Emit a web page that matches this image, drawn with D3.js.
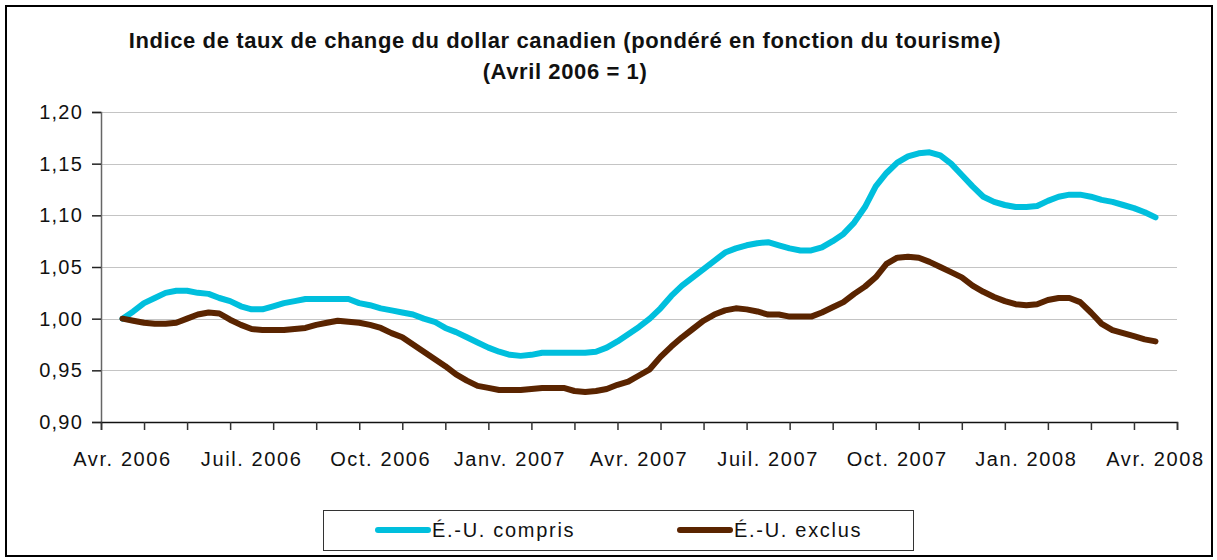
<!DOCTYPE html>
<html>
<head>
<meta charset="utf-8">
<script src="https://cdn.jsdelivr.net/npm/d3@7"></script>
<style>
  body { margin: 0; background: #fff; }
  svg text { font-family: 'Liberation Sans', Arial, sans-serif; fill: #111; }
</style>
</head>
<body>
<div id="chart"></div>
<script>
// monthly categories on the x axis (Avr. 2006 .. Avr. 2008)
const months = ['Avr. 2006', 'Mai 2006', 'Juin 2006', 'Juil. 2006', 'Août 2006', 'Sept. 2006',
  'Oct. 2006', 'Nov. 2006', 'Déc. 2006', 'Janv. 2007', 'Févr. 2007', 'Mars 2007',
  'Avr. 2007', 'Mai 2007', 'Juin 2007', 'Juil. 2007', 'Août 2007', 'Sept. 2007',
  'Oct. 2007', 'Nov. 2007', 'Déc. 2007', 'Jan. 2008', 'Févr. 2008', 'Mars 2008', 'Avr. 2008']
const shownLabels = ['Avr. 2006', 'Juil. 2006', 'Oct. 2006', 'Janv. 2007', 'Avr. 2007',
  'Juil. 2007', 'Oct. 2007', 'Jan. 2008', 'Avr. 2008']
const yTicks = [0.90, 0.95, 1.00, 1.05, 1.10, 1.15, 1.20]

// weekly index values, first week of Avr. 2006 to first week of Avr. 2008
const usIncluded = [
  1.000, 1.007, 1.015, 1.020, 1.025, 1.027, 1.027, 1.025, 1.024, 1.020,
  1.017, 1.012, 1.009, 1.009, 1.012, 1.015, 1.017, 1.019, 1.019, 1.019,
  1.019, 1.019, 1.015, 1.013, 1.010, 1.008, 1.006, 1.004, 1.000, 0.997,
  0.991, 0.987, 0.982, 0.977, 0.972, 0.968, 0.965, 0.964, 0.965, 0.967,
  0.967, 0.967, 0.967, 0.967, 0.968, 0.972, 0.978, 0.985, 0.992, 1.000,
  1.010, 1.022, 1.032, 1.040, 1.048, 1.056, 1.064, 1.068, 1.071, 1.073,
  1.074, 1.071, 1.068, 1.066, 1.066, 1.069, 1.075, 1.082, 1.093, 1.108,
  1.128, 1.141, 1.151, 1.157, 1.160, 1.161, 1.158, 1.150, 1.139, 1.128,
  1.118, 1.113, 1.110, 1.108, 1.108, 1.109, 1.114, 1.118, 1.120, 1.120,
  1.118, 1.115, 1.113, 1.110, 1.107, 1.103, 1.098
]
const usExcluded = [
  1.000, 0.998, 0.996, 0.995, 0.995, 0.996, 1.000, 1.004, 1.006, 1.005,
  0.999, 0.994, 0.990, 0.989, 0.989, 0.989, 0.990, 0.991, 0.994, 0.996,
  0.998, 0.997, 0.996, 0.994, 0.991, 0.986, 0.982, 0.975, 0.968, 0.961,
  0.954, 0.946, 0.940, 0.935, 0.933, 0.931, 0.931, 0.931, 0.932, 0.933,
  0.933, 0.933, 0.930, 0.929, 0.930, 0.932, 0.936, 0.939, 0.945, 0.951,
  0.963, 0.973, 0.982, 0.990, 0.998, 1.004, 1.008, 1.010, 1.009, 1.007,
  1.004, 1.004, 1.002, 1.002, 1.002, 1.006, 1.011, 1.016, 1.024, 1.031,
  1.040, 1.053, 1.059, 1.060, 1.059, 1.055, 1.050, 1.045, 1.040, 1.032,
  1.026, 1.021, 1.017, 1.014, 1.013, 1.014, 1.018, 1.020, 1.020, 1.016,
  1.006, 0.995, 0.989, 0.986, 0.983, 0.980, 0.978
]

const seriesNames = ['É.-U. compris', 'É.-U. exclus']
const segColor = ['#00BFDD', '#5A2400']

const width = 1217
const height = 560
const plotLeft = 101
const plotRight = 1177
const plotTop = 112
const plotBottom = 422

const svg = d3.select('#chart').append('svg')
  .attr('width', width)
  .attr('height', height)

// outer frame
svg.append('rect')
  .attr('x', 6).attr('y', 6)
  .attr('width', 1206).attr('height', 550)
  .attr('fill', '#fff')
  .attr('stroke', '#000')
  .attr('stroke-width', 2)

// titles
svg.append('text')
  .attr('x', 565).attr('y', 48)
  .attr('text-anchor', 'middle')
  .style('font-size', '22px').style('font-weight', 'bold')
  .style('letter-spacing', '0.6px')
  .text('Indice de taux de change du dollar canadien (pondéré en fonction du tourisme)')
svg.append('text')
  .attr('x', 565).attr('y', 79)
  .attr('text-anchor', 'middle')
  .style('font-size', '22px').style('font-weight', 'bold')
  .style('letter-spacing', '0.6px')
  .text('(Avril 2006 = 1)')

const x = d3.scaleBand()
  .domain(months)
  .range([plotLeft, plotRight])
  .padding(0)

const y = d3.scaleLinear()
  .domain([0.90, 1.20])
  .range([plotBottom, plotTop])

// gridlines
svg.append('g')
  .selectAll('line')
  .data(yTicks.slice(1))
  .enter().append('line')
  .attr('x1', plotLeft).attr('x2', plotRight)
  .attr('y1', d => Math.round(y(d)) + 0.5)
  .attr('y2', d => Math.round(y(d)) + 0.5)
  .attr('stroke', '#c4c4c4')
  .attr('stroke-width', 1)

// y axis
const yAxis = d3.axisLeft(y)
  .tickValues(yTicks)
  .tickSize(9)
  .tickPadding(9)
  .tickFormat(d => d3.format('.2f')(d).replace('.', ','))
const gy = svg.append('g')
  .attr('transform', 'translate(' + plotLeft + ',0)')
  .call(yAxis)
gy.select('.domain').attr('stroke', '#666').attr('stroke-width', 1.5)
gy.selectAll('.tick line').attr('stroke', '#222').attr('stroke-width', 1.5)
gy.selectAll('.tick text')
  .style('font-size', '20px')
  .style('letter-spacing', '1.2px')
  .attr('fill', '#111')

// x axis: ticks at month boundaries, labels every third month
const monthEdge = d3.scaleLinear()
  .domain([0, months.length])
  .range([plotLeft, plotRight])
const xAxis = d3.axisBottom(monthEdge)
  .tickValues(d3.range(0, months.length + 1))
  .tickSize(8)
  .tickFormat('')
const gx = svg.append('g')
  .attr('transform', 'translate(0,' + plotBottom + ')')
  .call(xAxis)
gx.select('.domain').attr('stroke', '#111').attr('stroke-width', 1.5)
gx.selectAll('.tick line').attr('stroke', '#333').attr('stroke-width', 1.5)

svg.append('g')
  .selectAll('text')
  .data(shownLabels)
  .enter().append('text')
  .attr('x', d => x(d) + x.bandwidth() / 2)
  .attr('y', 466)
  .attr('text-anchor', 'middle')
  .style('font-size', '20px')
  .style('letter-spacing', '1.6px')
  .text(d => d)

// lines: first week in the centre of Avr. 2006, last in the centre of Avr. 2008
const weekX = d3.scaleLinear()
  .domain([0, usIncluded.length - 1])
  .range([x(months[0]) + x.bandwidth() / 2, x(months[months.length - 1]) + x.bandwidth() / 2])

const line = d3.line()
  .x((d, i) => weekX(i))
  .y(d => y(d))

const series = [usIncluded, usExcluded]
svg.append('g')
  .selectAll('path')
  .data(series)
  .enter().append('path')
  .attr('d', line)
  .attr('fill', 'none')
  .attr('stroke', (d, i) => segColor[i])
  .attr('stroke-width', 6)
  .attr('stroke-linejoin', 'round')
  .attr('stroke-linecap', 'round')

// legend
svg.append('rect')
  .attr('x', 323.5).attr('y', 510.5)
  .attr('width', 590).attr('height', 40)
  .attr('fill', '#fff')
  .attr('stroke', '#333')
  .attr('stroke-width', 1)

const legend = svg.selectAll('.legend')
  .data(seriesNames)
  .enter().append('g')
  .attr('class', 'legend')
  .attr('transform', (d, i) => 'translate(' + (378 + i * 302) + ',530)')

legend.append('line')
  .attr('x1', 0).attr('x2', 50)
  .attr('stroke', (d, i) => segColor[i])
  .attr('stroke-width', 6)
  .attr('stroke-linecap', 'round')

legend.append('text')
  .attr('x', 54)
  .attr('y', 7)
  .style('font-size', '20px')
  .style('letter-spacing', '1.7px')
  .text(d => d)
</script>
</body>
</html>
